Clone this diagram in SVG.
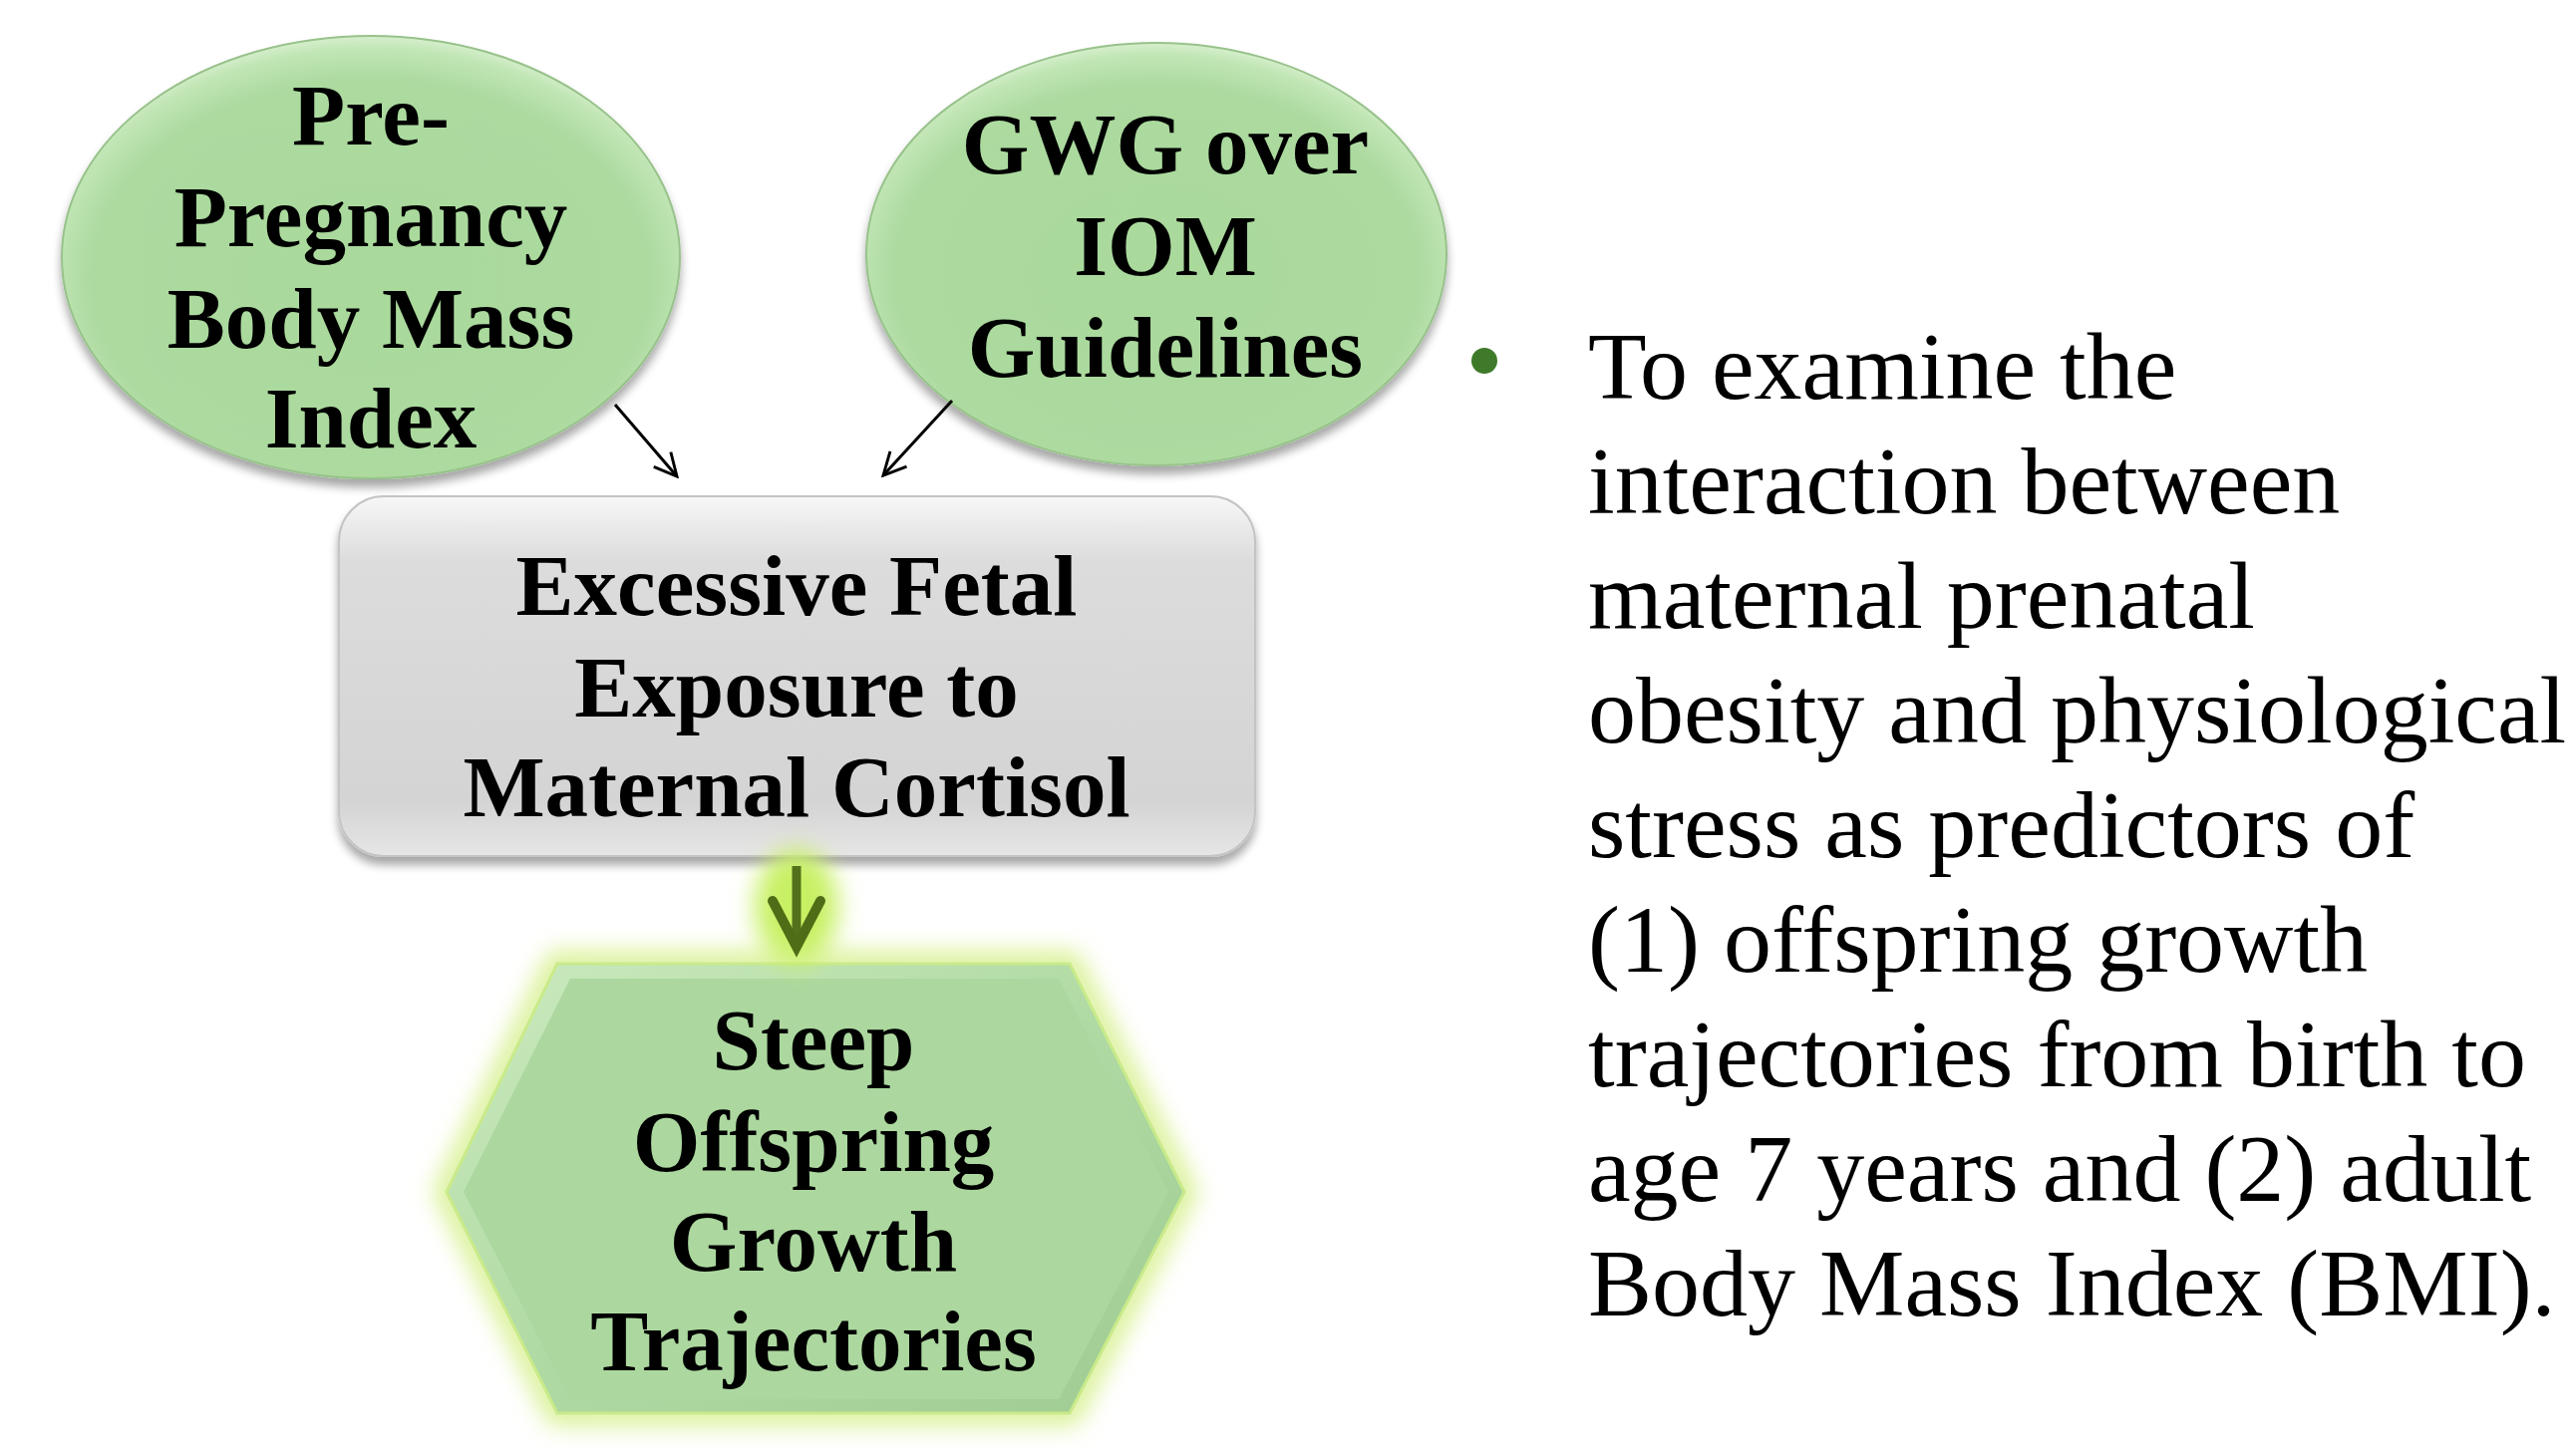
<svg xmlns="http://www.w3.org/2000/svg" width="2580" height="1461" viewBox="0 0 2580 1461">
<defs>
<style>
.lbl{font-family:"Liberation Serif","Times New Roman",serif;font-weight:bold;font-size:87px;fill:#000;text-anchor:middle}
.body{font-family:"Liberation Serif","Times New Roman",serif;font-size:96px;fill:#000}
.conn{stroke:#000;stroke-width:3;fill:none}
</style>
<radialGradient id="gEll" cx="0.5" cy="0.55" r="0.55">
<stop offset="0" stop-color="#aad99c"/>
<stop offset="0.82" stop-color="#acda9f"/>
<stop offset="0.95" stop-color="#c2e6b6"/>
<stop offset="1" stop-color="#d6efcd"/>
</radialGradient>
<linearGradient id="gBox" x1="0" y1="0" x2="0" y2="1">
<stop offset="0" stop-color="#f7f7f7"/>
<stop offset="0.18" stop-color="#dcdcdc"/>
<stop offset="0.85" stop-color="#d4d4d4"/>
<stop offset="1" stop-color="#e6e6e6"/>
</linearGradient>
<linearGradient id="gBevel" x1="0" y1="0" x2="1" y2="1">
<stop offset="0" stop-color="#cbeabf"/>
<stop offset="0.5" stop-color="#b0daa3"/>
<stop offset="1" stop-color="#9fcc92"/>
</linearGradient>
<filter id="shadow" x="-10%" y="-10%" width="120%" height="130%">
<feGaussianBlur in="SourceAlpha" stdDeviation="5"/>
<feOffset dx="0" dy="8" result="b"/>
<feComponentTransfer><feFuncA type="linear" slope="0.35"/></feComponentTransfer>
<feMerge><feMergeNode/><feMergeNode in="SourceGraphic"/></feMerge>
</filter>
<filter id="glow" x="-30%" y="-30%" width="160%" height="160%">
<feGaussianBlur stdDeviation="12"/>
</filter>
<marker id="open" viewBox="0 0 12 12" refX="11" refY="6" markerWidth="9" markerHeight="9" markerUnits="strokeWidth" orient="auto">
<path d="M1,1 L11,6 L1,11" fill="none" stroke="#000" stroke-width="1.3"/>
</marker>
</defs>
<rect width="2580" height="1461" fill="#fff"/>

<g id="node-prepregnancy">
<ellipse cx="372" cy="258" rx="310" ry="222" fill="url(#gEll)" stroke="#98c28b" stroke-width="2" filter="url(#shadow)"/>
<text class="lbl" x="372" y="145">Pre-</text>
<text class="lbl" x="372" y="247">Pregnancy</text>
<text class="lbl" x="372" y="349">Body Mass</text>
<text class="lbl" x="372" y="449">Index</text>
</g>

<g id="node-gwg">
<ellipse cx="1160" cy="255" rx="291" ry="212" fill="url(#gEll)" stroke="#98c28b" stroke-width="2" filter="url(#shadow)"/>
<text class="lbl" x="1169" y="174">GWG over</text>
<text class="lbl" x="1169" y="276">IOM</text>
<text class="lbl" x="1169" y="378">Guidelines</text>
</g>

<g id="node-cortisol">
<rect x="340" y="498" width="919" height="361" rx="45" ry="45" fill="url(#gBox)" stroke="#c4c4c4" stroke-width="2" filter="url(#shadow)"/>
<text class="lbl" x="799" y="617">Excessive Fetal</text>
<text class="lbl" x="799" y="719">Exposure to</text>
<text class="lbl" x="799" y="819">Maternal Cortisol</text>
</g>

<g id="node-growth">
<polygon points="559,967 1073,967 1188,1196 1073,1418 559,1418 448,1196" fill="none" stroke="#d3ef85" stroke-width="22" filter="url(#glow)"/>
<polygon points="559,967 1073,967 1188,1196 1073,1418 559,1418 448,1196" fill="url(#gBevel)" stroke="#c9ea8a" stroke-width="3"/>
<polygon points="572,982 1062,982 1172,1196 1062,1404 572,1404 465,1196" fill="#acd89f"/>
<text class="lbl" x="816" y="1073">Steep</text>
<text class="lbl" x="816" y="1175">Offspring</text>
<text class="lbl" x="816" y="1275">Growth</text>
<text class="lbl" x="816" y="1375">Trajectories</text>
</g>

<g id="connectors">
<line class="conn" x1="617" y1="406" x2="679" y2="478" marker-end="url(#open)"/>
<line class="conn" x1="955" y1="402" x2="886" y2="477" marker-end="url(#open)"/>
<g id="arrow-down">
<ellipse cx="799" cy="910" rx="42" ry="58" fill="#c8f063" filter="url(#glow)"/>
<line x1="799" y1="869" x2="799" y2="944" stroke="#53701a" stroke-width="9"/>
<polyline points="775,904 799,950 823,904" fill="none" stroke="#4f6d16" stroke-width="10" stroke-linecap="round" stroke-linejoin="miter"/>
</g>
</g>

<g id="objective">
<circle cx="1489" cy="362" r="13" fill="#3f7a2a"/>
<text class="body" x="1593" y="400">To examine the</text>
<text class="body" x="1593" y="515">interaction between</text>
<text class="body" x="1593" y="630">maternal prenatal</text>
<text class="body" x="1593" y="745">obesity and physiological</text>
<text class="body" x="1593" y="860">stress as predictors of</text>
<text class="body" x="1593" y="975">(1) offspring growth</text>
<text class="body" x="1593" y="1090">trajectories from birth to</text>
<text class="body" x="1593" y="1205">age 7 years and (2) adult</text>
<text class="body" x="1593" y="1320">Body Mass Index (BMI).</text>
</g>
</svg>
